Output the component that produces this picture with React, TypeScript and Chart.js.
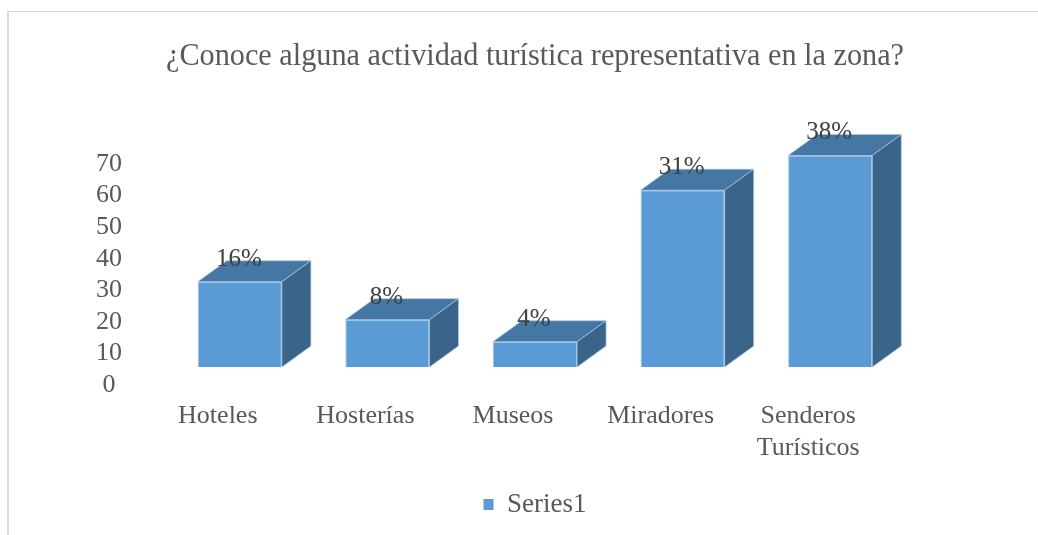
import React, { useEffect, useRef } from "react";
import { Chart, registerables } from "chart.js";

Chart.register(...registerables);

const categories: (string | string[])[] = ["Hoteles", "Hosterías", "Museos", "Miradores", ["Senderos", "Turísticos"]];
const seriesValues = [27, 15, 8, 56, 67];
const percentLabels = ["16%", "8%", "4%", "31%", "38%"];
const seriesName = "Series1";
const yMin = 0;
const yMax = 70;
const yStep = 10;

const FONT = "'Liberation Serif', 'Times New Roman', serif";
const FRONT = "#5B9BD5";
const TOP = "#4577a5";
const SIDE = "#3a6489";
const DX = 29;
const DY = 21;

const framePlugin = {
  id: "frame",
  beforeDraw(chart: any) {
    const ctx = chart.ctx;
    ctx.save();
    ctx.fillStyle = "#d9d9d9";
    ctx.fillRect(7, 11, chart.width - 7, 1);
    ctx.fillRect(7, 11, 2, chart.height - 11);
    ctx.restore();
  },
};

const bar3dPlugin = {
  id: "bar3d",
  afterDatasetsDraw(chart: any) {
    const ctx = chart.ctx;
    const meta = chart.getDatasetMeta(0);
    ctx.save();
    meta.data.forEach((el: any, i: number) => {
      const { x, y, base, width } = el.getProps(["x", "y", "base", "width"], true);
      const x0 = x - width / 2;
      const x1 = x + width / 2;
      ctx.beginPath();
      ctx.moveTo(x0, y);
      ctx.lineTo(x0 + DX, y - DY);
      ctx.lineTo(x1 + DX, y - DY);
      ctx.lineTo(x1, y);
      ctx.closePath();
      ctx.fillStyle = TOP;
      ctx.fill();
      ctx.strokeStyle = "rgba(170,200,230,0.7)";
      ctx.lineWidth = 1;
      ctx.stroke();
      ctx.beginPath();
      ctx.moveTo(x1, y);
      ctx.lineTo(x1 + DX, y - DY);
      ctx.lineTo(x1 + DX, base - DY);
      ctx.lineTo(x1, base);
      ctx.closePath();
      ctx.fillStyle = SIDE;
      ctx.fill();
      ctx.stroke();
      ctx.fillStyle = "#404040";
      ctx.font = `25px ${FONT}`;
      ctx.textAlign = "center";
      ctx.textBaseline = "alphabetic";
      ctx.fillText(percentLabels[i], x - 1, y - 16);
    });
    ctx.restore();
  },
};

export default function App() {
  const ref = useRef<HTMLCanvasElement | null>(null);
  useEffect(() => {
    if (!ref.current) return;
    const chart = new Chart(ref.current, {
      type: "bar",
      data: {
        labels: categories as any,
        datasets: [
          {
            label: seriesName,
            data: seriesValues,
            backgroundColor: FRONT,
            borderColor: "#9cc2e6",
            borderWidth: 1,
            barPercentage: 0.57,
            categoryPercentage: 1,
          },
        ],
      },
      options: {
        responsive: false,
        animation: false,
        layout: { padding: { left: 96, right: 134, top: 0, bottom: 7 } },
        plugins: {
          title: {
            display: true,
            fullSize: false,
            text: "¿Conoce alguna actividad turística representativa en la zona?",
            color: "#595959",
            font: { family: FONT, size: 32, weight: "normal", lineHeight: 1.2 },
            padding: { top: 37, bottom: 70.6 },
          },
          legend: {
            display: true,
            fullSize: false,
            position: "bottom",
            labels: {
              boxWidth: 10,
              boxHeight: 11,
              color: "#595959",
              font: { family: FONT, size: 27 },
              generateLabels: () => [
                { text: seriesName, fillStyle: FRONT, strokeStyle: FRONT, lineWidth: 0, hidden: false, datasetIndex: 0, fontColor: "#595959" } as any,
              ],
            },
          },
          tooltip: { enabled: false },
        },
        scales: {
          x: {
            type: "category",
            grid: { display: false, drawTicks: false },
            border: { display: false },
            ticks: {
              color: "#595959",
              font: { family: FONT, size: 26 },
              padding: 34,
              labelOffset: -22,
              maxRotation: 0,
              autoSkip: false,
            },
            afterFit: (s: any) => {
              s.height = 114;
            },
          },
          y: {
            min: yMin,
            max: yMax,
            grid: { display: false, drawTicks: false },
            border: { display: false },
            ticks: {
              stepSize: yStep,
              autoSkip: false,
              color: "#595959",
              font: { family: FONT, size: 26 },
              padding: 44,
              crossAlign: "center",
              labelOffset: 18,
            },
            afterFit: (s: any) => {
              s.width = 70;
            },
          },
        },
      },
      plugins: [framePlugin, bar3dPlugin],
    });
    return () => chart.destroy();
  }, []);
  return (
    <div style={{ position: "absolute", left: 0, top: 0, width: 1038, height: 535 }}>
      <canvas ref={ref} width={1038} height={535} style={{ display: "block" }} />
    </div>
  );
}
